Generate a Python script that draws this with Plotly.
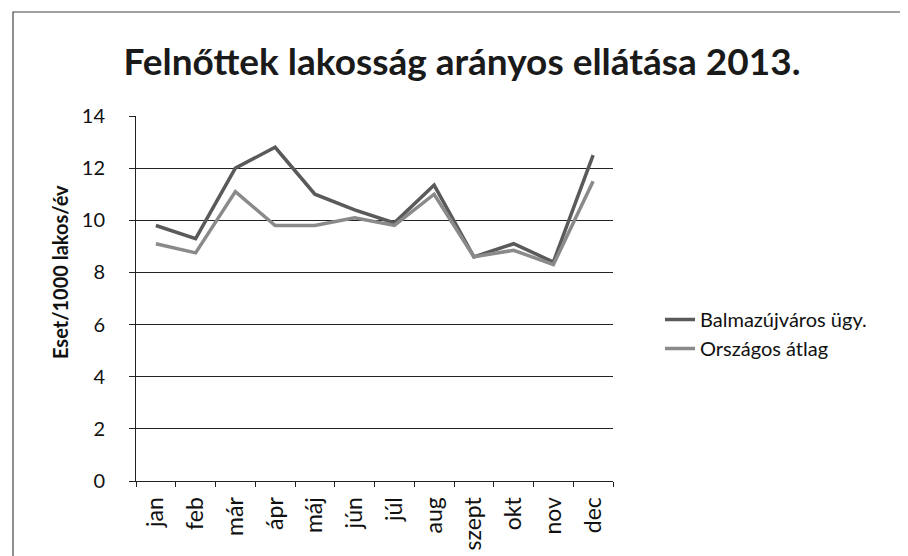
import plotly.graph_objects as go

months = ["jan", "feb", "már", "ápr", "máj", "jún", "júl", "aug", "szept", "okt", "nov", "dec"]
balmaz = [9.8, 9.3, 12.0, 12.8, 11.0, 10.4, 9.9, 11.35, 8.6, 9.1, 8.4, 12.5]
orszagos = [9.1, 8.75, 11.1, 9.8, 9.8, 10.1, 9.8, 11.0, 8.6, 8.85, 8.3, 11.5]
series_names = ["Balmazújváros ügy.", "Országos átlag"]
y_ticks = [0, 2, 4, 6, 8, 10, 12, 14]

W, H = 908, 556
L, R, T, B = 128, 605, 108, 473
pw, ph = R - L, B - T

fig = go.Figure()
fig.add_trace(go.Scatter(x=months, y=balmaz, mode="lines", name=series_names[0],
                         line=dict(color="#5a5a5a", width=3.5)))
fig.add_trace(go.Scatter(x=months, y=orszagos, mode="lines", name=series_names[1],
                         line=dict(color="#8a8a8a", width=3.5)))

font = "Lato, 'Open Sans', sans-serif"
fig.update_layout(
    width=W, height=H,
    margin=dict(l=L, r=W - R, t=T, b=H - B, pad=0),
    paper_bgcolor="white", plot_bgcolor="white",
    font=dict(family=font, color="#111", size=19),
    title=dict(text="<b>Felnőttek lakosság arányos ellátása 2013.</b>",
               x=0.5, xanchor="center", y=1 - 54 / H, yanchor="middle",
               font=dict(size=37, family=font, color="#1a1a1a")),
    showlegend=True,
    legend=dict(x=(652 - L) / pw, xanchor="left", y=(B - 292) / ph, yanchor="top",
                font=dict(size=20, family=font, color="#111"),
                bgcolor="rgba(0,0,0,0)", itemwidth=30),
    xaxis=dict(type="category", categoryorder="array", categoryarray=months,
               range=[-0.5, 11.5], tickangle=-90, showgrid=False,
               showline=True, linecolor="#222", linewidth=1,
               ticks="outside", tickson="boundaries", ticklen=5, tickcolor="#222",
               ticklabelstandoff=6,
               tickfont=dict(size=23, family=font, color="#111")),
    yaxis=dict(range=[0, 14], tickvals=y_ticks, showgrid=True, gridcolor="#222",
               gridwidth=1.3, showline=True, linecolor="#222", linewidth=1,
               ticks="outside", ticklen=6, tickcolor="#222", zeroline=False,
               ticklabelstandoff=20,
               tickfont=dict(size=20, family=font, color="#111")),
    annotations=[dict(text="<b>Eset/1000 lakos/év</b>", xref="paper", yref="paper",
                      x=(52 - L) / pw, y=(B - 264) / ph, xanchor="center", yanchor="middle",
                      textangle=-90, showarrow=False,
                      font=dict(size=20, family=font, color="#111"))],
    shapes=[dict(type="rect", xref="paper", yref="paper",
                 x0=(5 - L) / pw, x1=(903 - L) / pw,
                 y0=(B - 551) / ph, y1=(B - 4) / ph,
                 line=dict(color="#444", width=1.2), fillcolor="rgba(0,0,0,0)")],
)

fig.write_html("out.html")
